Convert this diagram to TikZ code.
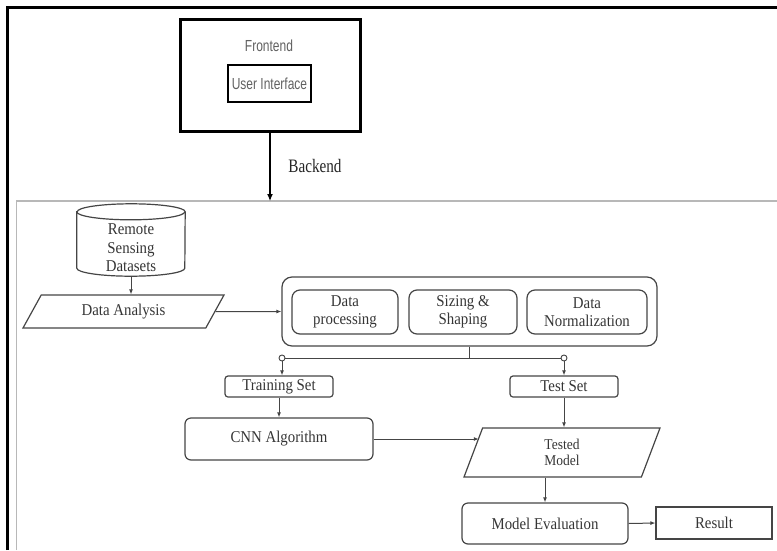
\documentclass[tikz,border=0pt]{standalone}
\usepackage{fontspec}
\setmainfont{Liberation Serif}[FakeStretch=0.9]
\newfontfamily\uisans{Liberation Sans}[FakeStretch=0.75]
\newfontfamily\bkserif{Liberation Serif}[FakeStretch=0.8]
\usetikzlibrary{arrows.meta,shapes.geometric}
\definecolor{txt}{HTML}{353535}
\definecolor{ln}{HTML}{454545}
\tikzset{
  x=1pt, y=-1pt,
  lbl/.style={font=\fontsize{16.5}{17.5}\selectfont, text=txt, align=center, inner sep=0pt},
  rbox/.style={lbl, draw=ln, line width=1.2pt, rounded corners=#1},
  rbox/.default=6pt,
  para/.style={lbl, draw=ln, line width=1.2pt, shape=trapezium, trapezium stretches body,
    trapezium left angle=#1, trapezium right angle=180-#1},
  conn/.style={draw=ln, line width=1pt, -{Latex[length=5pt,width=4pt]}},
  plain/.style={draw=ln, line width=1pt},
  junc/.style={circle, draw=ln, fill=white, line width=0.9pt, inner sep=0pt, minimum size=6pt},
}
\begin{document}
\begin{tikzpicture}
\useasboundingbox (0,0) rectangle (777,550);
% frames
\draw[line width=3pt, black] (7,550) -- (7,7) -- (777,7);
\draw[line width=1.5pt, black!28] (16.5,550) -- (16.5,201) -- (777,201);
% frontend
\node[draw=black, line width=3pt, minimum width=180, minimum height=112, inner sep=0pt] (fe) at (270,75) {};
\node[font=\uisans\fontsize{16}{18}\selectfont, text=black!62, inner sep=0pt] (fet) at (269,46) {Frontend};
\node[draw=black, line width=2.5pt, minimum width=83, minimum height=37, inner sep=0pt,
      font=\uisans\fontsize{16}{18}\selectfont, text=black!62] (ui) at (269.5,83.5) {User Interface};
\coordinate (bk) at (270,201);
\draw[line width=1.1pt, black, -{Latex[length=7pt,width=6pt]}] (fe.south) -- (bk);
\node[font=\bkserif\fontsize{19}{21}\selectfont, text=black!85, inner sep=0pt] (bkt) at (315,166) {Backend};
% cylinder
\node[minimum width=108, minimum height=72, inner sep=0pt] (cyl) at (131,240) {};
\draw[ln, line width=1.2pt, fill=white] ([yshift=-8]cyl.north west) -- ([yshift=8]cyl.south west)
   arc[start angle=180, end angle=0, x radius=54, y radius=8]
   -- ([yshift=-8]cyl.north east)
   arc[start angle=0, end angle=-180, x radius=54, y radius=8] -- cycle;
\draw[ln, line width=1.2pt] ([yshift=-8]cyl.north west) arc[start angle=180, end angle=0, x radius=54, y radius=8];
\node[lbl, font=\fontsize{16.5}{18.5}\selectfont] (cylt) at (131,248) {Remote\\Sensing\\Datasets};
% data analysis
\node[para=39.5, minimum width=201, minimum height=33] (da) at (123.5,311.5) {Data Analysis};
\draw[conn] (cyl.south) -- (cyl.south |- da.north);
% processing group
\node[rbox=10pt, minimum width=375, minimum height=69] (pp) at (469.5,311.5) {};
\node[rbox=8pt, minimum width=106, minimum height=44] (dp) at (345,312) {Data\\processing};
\node[rbox=8pt, minimum width=108, minimum height=44] (ss) at (463,312) {Sizing \&\\Shaping};
\node[rbox=8pt, minimum width=120, minimum height=44] (dn) at (587,312) {Data\\Normalization};
\draw[conn] (da.east) -- (pp.west);
% split
\coordinate (j) at (469.5,358);
\node[junc] (c1) at (282,358) {};
\node[junc] (c2) at (564,358) {};
\draw[plain] (pp.south) -- (j);
\draw[plain] (c1.east) -- (c2.west);
\node[rbox=3pt, minimum width=108, minimum height=21] (tr) at (279,386.5) {Training Set};
\node[rbox=3pt, minimum width=108, minimum height=21] (te) at (564,386.5) {Test Set};
\draw[conn] (c1.south) -- (c1.south |- tr.north);
\draw[conn] (c2.south) -- (c2.south |- te.north);
% cnn
\node[rbox=6pt, minimum width=188, minimum height=42] (cnn) at (279,439) {CNN Algorithm};
\draw[conn] (tr.south) -- (cnn.north);
% tested model
\node[para=55, minimum width=196, minimum height=49, font=\fontsize{15}{16}\selectfont] (tm) at (562,452.5) {Tested\\Model};
\draw[conn] (cnn.east) -- (cnn.east -| tm.169.5);
\draw[conn] (te.south) -- (te.south |- tm.north);
% evaluation
\node[rbox=6pt, minimum width=166, minimum height=41] (me) at (545,523.5) {Model Evaluation};
\draw[conn] (me.north |- tm.south) -- (me.north);
\node[draw=ln, line width=1.2pt, lbl, minimum width=116, minimum height=32] (res) at (714,523) {Result};
\draw[conn] (me.east) -- (res.west);
\end{tikzpicture}
\end{document}
